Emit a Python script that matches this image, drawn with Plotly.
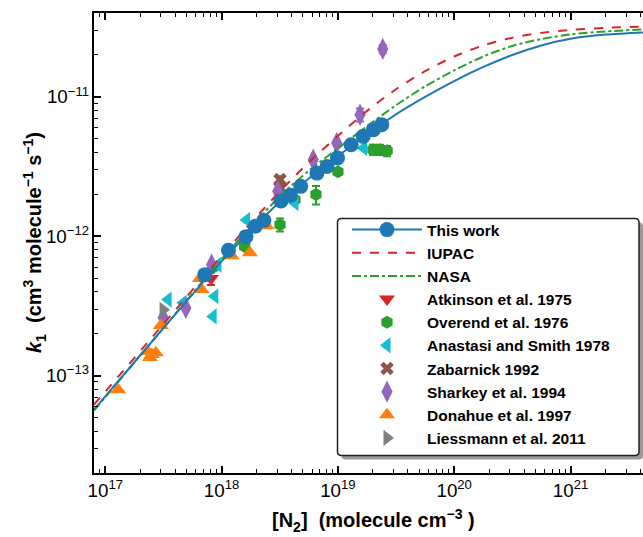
import plotly.graph_objects as go
import numpy as np

# ---------------- data ----------------
# model curves: [N2] (molecule cm^-3) and k1 (cm3 molecule-1 s-1)
curve_x = [8.0e16, 1e17, 3.16e17, 1e18, 3.16e18, 5.62e18, 1e19, 1.78e19, 3.16e19, 5.62e19,
           1e20, 1.78e20, 3.16e20, 5.62e20, 1e21, 2e21, 4.2e21]
this_work_curve = [5.7e-14, 7.1e-14, 2.19e-13, 6.6e-13, 1.76e-12, 2.6e-12, 3.76e-12, 5.37e-12, 7.5e-12, 1.0e-11,
                   1.3e-11, 1.64e-11, 2.0e-11, 2.34e-11, 2.61e-11, 2.8e-11, 2.9e-11]
iupac_curve = [6.2e-14, 7.67e-14, 2.34e-13, 7.24e-13, 2.09e-12, 3.39e-12, 5.25e-12, 7.94e-12, 1.135e-11, 1.53e-11,
               1.95e-11, 2.34e-11, 2.66e-11, 2.88e-11, 3.02e-11, 3.13e-11, 3.2e-11]
nasa_curve = [5.6e-14, 7.0e-14, 2.19e-13, 6.84e-13, 1.93e-12, 2.95e-12, 4.27e-12, 6.17e-12, 8.71e-12, 1.19e-11,
              1.55e-11, 1.95e-11, 2.32e-11, 2.6e-11, 2.81e-11, 2.95e-11, 3.05e-11]

# This work (measurements)
tw_x = [7.18e17, 1.145e18, 1.62e18, 1.95e18, 2.31e18, 3.24e18, 3.91e18, 4.79e18, 6.61e18,
        8.06e18, 9.92e18, 1.30e19, 1.65e19, 2.02e19, 2.38e19]
tw_k = [5.30e-13, 7.93e-13, 9.93e-13, 1.18e-12, 1.30e-12, 1.79e-12, 1.97e-12, 2.28e-12, 2.84e-12,
        3.17e-12, 3.65e-12, 4.54e-12, 5.21e-12, 5.82e-12, 6.32e-12]

atk_x = [8.1e17]
atk_k = [4.97e-13]
atk_e = [5e-14]

ove_x = [8.4e17, 1.58e18, 3.18e18, 4.27e18, 6.48e18, 1.0e19, 2.0e19, 2.3e19, 2.65e19]
ove_k = [5.96e-13, 8.45e-13, 1.21e-12, 1.83e-12, 1.99e-12, 2.9e-12, 4.18e-12, 4.18e-12, 4.1e-12]
ove_e = [0, 0, 1.3e-13, 0, 3.0e-13, 0, 3.5e-13, 3.5e-13, 3.5e-13]

ana_x = [3.47e17, 4.68e17, 8.75e17, 8.47e17, 9.3e17, 1.64e18, 4.28e18, 1.66e19]
ana_k = [3.51e-13, 3.33e-13, 3.71e-13, 2.66e-13, 6.25e-13, 1.31e-12, 1.73e-12, 4.3e-12]

zab_x = [3.18e18, 3.18e18]
zab_k = [2.55e-12, 2.23e-12]
zab_e = [1.5e-13, 1.5e-13]

sha_x = [3.15e17, 4.93e17, 8.2e17, 3.04e18, 6.14e18, 9.77e18, 1.55e19, 2.43e19]
sha_k = [2.6e-13, 3.06e-13, 6.25e-13, 2.1e-12, 3.54e-12, 4.67e-12, 7.45e-12, 2.21e-11]
sha_e = [0, 0, 0, 0, 0, 0, 8e-13, 1.5e-12]

don_x = [1.29e17, 2.32e17, 2.42e17, 2.51e17, 2.72e17, 3.0e17, 6.5e17, 6.73e17, 1.22e18, 1.75e18, 2.44e18]
don_k = [7.9e-14, 1.49e-13, 1.35e-13, 1.42e-13, 1.46e-13, 2.29e-13, 4.97e-13, 4.14e-13, 7.26e-13, 7.62e-13, 1.19e-12]

lie_x = [3.14e17]
lie_k = [2.97e-13]

x_range = [8.0e16, 4.2e21]
y_range = [2.0e-14, 4.0e-11]

# ---------------- colours ----------------
C_BLUE, C_RED, C_GREEN = "#1f77b4", "#d62728", "#2ca02c"
C_CYAN, C_BROWN, C_PURPLE = "#17becf", "#8c564b", "#9467bd"
C_ORANGE, C_GREY = "#ff7f0e", "#7f7f7f"

fig = go.Figure()


def pts(x, y, name, color, symbol, size, rank, err=None):
    kw = {}
    if err is not None:
        kw["error_y"] = dict(type="data", array=err, color=color, thickness=2, width=4)
    fig.add_trace(go.Scatter(
        x=x, y=y, mode="markers", name=name, legendrank=rank,
        marker=dict(color=color, symbol=symbol, size=size, line=dict(width=0)),
        **kw))


pts(atk_x, atk_k, "Atkinson et al. 1975", C_RED, "triangle-down", 14, 4, atk_e)
pts(ove_x, ove_k, "Overend et al. 1976", C_GREEN, "hexagon", 13, 5, ove_e)
pts(ana_x, ana_k, "Anastasi and Smith 1978", C_CYAN, "triangle-left", 14, 6)
pts(zab_x, zab_k, "Zabarnick 1992", C_BROWN, "x", 12, 7, zab_e)
pts(sha_x, sha_k, "Sharkey et al. 1994", C_PURPLE, "diamond-tall", 16, 8, sha_e)
pts(don_x, don_k, "Donahue et al. 1997", C_ORANGE, "triangle-up", 14, 9)
pts(lie_x, lie_k, "Liessmann et al. 2011", C_GREY, "triangle-right", 14, 10)

fig.add_trace(go.Scatter(x=curve_x, y=iupac_curve, mode="lines", name="IUPAC", legendrank=2,
                         line=dict(color=C_RED, width=2, dash="dash", shape="spline", smoothing=0.8)))
fig.add_trace(go.Scatter(x=curve_x, y=nasa_curve, mode="lines", name="NASA", legendrank=3,
                         line=dict(color=C_GREEN, width=2, dash="dashdot", shape="spline", smoothing=0.8)))
fig.add_trace(go.Scatter(x=curve_x, y=this_work_curve, mode="lines", name="This work curve",
                         showlegend=False, legendgroup="tw",
                         line=dict(color=C_BLUE, width=2, shape="spline", smoothing=0.8)))

# measured points: separated by gaps so no line is drawn between them,
# but the legend shows marker + line like the reference
tw_xg, tw_kg = [], []
for xv, kv in zip(tw_x, tw_k):
    tw_xg += [xv, None]
    tw_kg += [kv, None]
fig.add_trace(go.Scatter(x=tw_xg, y=tw_kg, mode="lines+markers", name="This work",
                         legendgroup="tw", legendrank=1, connectgaps=False,
                         marker=dict(color=C_BLUE, size=15, symbol="circle"),
                         line=dict(color=C_BLUE, width=2)))

FONT = "Liberation Sans, Arial, sans-serif"
axis_common = dict(
    type="log", dtick=1, exponentformat="power", showexponent="all",
    ticks="inside", ticklen=7, tickwidth=1.5, tickcolor="black",
    showline=True, linecolor="black", linewidth=2,
    showgrid=False, zeroline=False,
    tickfont=dict(family=FONT, size=15, color="black"),
    minor=dict(ticks="inside", ticklen=4, tickwidth=1.2, tickcolor="black", showgrid=False),
)

L, R, T, B = 94, 0, 13, 64
W, H = 643, 537
PW, PH = W - L - R, H - T - B


def px(xp):
    return (xp - L) / PW


def py(yp):
    return 1 - (yp - T) / PH


def rounded_box(x0, y0, x1, y1, r):
    rx, ry = r / PW, r / PH
    X0, X1, Y0, Y1 = px(x0), px(x1), py(y0), py(y1)  # Y0 top, Y1 bottom
    return (f"M{X0 + rx},{Y0} L{X1 - rx},{Y0} Q{X1},{Y0} {X1},{Y0 - ry} "
            f"L{X1},{Y1 + ry} Q{X1},{Y1} {X1 - rx},{Y1} "
            f"L{X0 + rx},{Y1} Q{X0},{Y1} {X0},{Y1 + ry} "
            f"L{X0},{Y0 - ry} Q{X0},{Y0} {X0 + rx},{Y0} Z")


BOX = (337.5, 218.5, 639, 455.5)
shapes = [
    dict(type="path", xref="paper", yref="paper", layer="above",
         path=rounded_box(BOX[0] + 4, BOX[1] + 4, BOX[2] + 4, BOX[3] + 4, 4),
         fillcolor="#9a9a9a", line=dict(width=0)),
    dict(type="path", xref="paper", yref="paper", layer="above",
         path=rounded_box(*BOX, 4),
         fillcolor="white", line=dict(color="#222", width=1.5)),
]

fig.update_layout(
    width=W, height=H,
    margin=dict(l=L, r=R, t=T, b=B),
    paper_bgcolor="white", plot_bgcolor="white",
    font=dict(family=FONT, color="black"),
    xaxis=dict(range=[np.log10(x_range[0]), np.log10(x_range[1])], mirror="allticks", **axis_common),
    yaxis=dict(range=[np.log10(y_range[0]), np.log10(y_range[1])], **axis_common),
    shapes=shapes,
    legend=dict(x=px(347), y=py(213), xanchor="left", yanchor="top",
                bgcolor="rgba(0,0,0,0)", borderwidth=0,
                font=dict(family=FONT, size=15.5, color="black", weight="bold"),
                itemwidth=70, traceorder="normal", tracegroupgap=0),
    showlegend=True,
    annotations=[
        dict(text="<b>[N<sub>2</sub>]  (molecule cm<sup>−3</sup> )</b>",
             xref="paper", yref="paper", x=px(373), y=py(520),
             xanchor="center", yanchor="middle", showarrow=False,
             font=dict(family=FONT, size=20, color="black")),
        dict(text="<b><i>k</i><sub>1</sub>  (cm<sup>3</sup> molecule<sup>−1</sup> s<sup>−1</sup>)</b>",
             xref="paper", yref="paper", x=px(34), y=0.5, textangle=-90,
             xanchor="center", yanchor="middle", showarrow=False,
             font=dict(family=FONT, size=20, color="black")),
    ],
)

fig.write_html("out.html")
